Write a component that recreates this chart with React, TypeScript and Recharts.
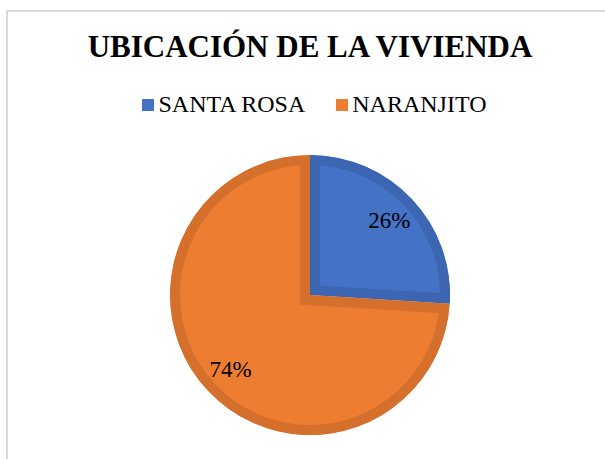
import { PieChart, Pie, Cell, Sector } from "recharts";

const categories = ["SANTA ROSA", "NARANJITO"];
const shares = [26, 74];

const FILLS = ["#4472C4", "#ED7D31"];
const BORDERS = ["#3D66B2", "#D5702C"];

const data = categories.map((name, i) => ({ name, value: shares[i] }));

const SERIF = '"Liberation Serif", "Times New Roman", serif';

// slice with its border drawn on the inside only (clipped double-width stroke)
const InnerStrokeSector = (props: any, idx?: number) => {
  const index = props.index ?? idx ?? 0;
  const id = `slice-clip-${index}`;
  return (
    <g>
      <defs>
        <clipPath id={id}>
          <Sector {...props} stroke="none" />
        </clipPath>
      </defs>
      <Sector
        {...props}
        fill={FILLS[index]}
        stroke={BORDERS[index]}
        strokeWidth={20}
        clipPath={`url(#${id})`}
      />
    </g>
  );
};

const renderLabel = ({ cx, cy, midAngle, percent }: any) => {
  const RADIAN = Math.PI / 180;
  const r = 109;
  const x = cx + r * Math.cos(-midAngle * RADIAN);
  const y = cy + r * Math.sin(-midAngle * RADIAN);
  return (
    <text
      x={x}
      y={y}
      fill="#000"
      textAnchor="middle"
      dominantBaseline="central"
      style={{ fontFamily: SERIF, fontSize: 23 }}
    >
      {(percent * 100).toFixed(0)}%
    </text>
  );
};

export default function App() {
  return (
    <div
      style={{
        position: "fixed",
        left: 0,
        top: 0,
        width: 605,
        height: 459,
        background: "#fff",
        overflow: "hidden",
      }}
    >
      <div
        style={{
          position: "absolute",
          left: 6,
          top: 10,
          width: 640,
          height: 480,
          borderLeft: "2px solid #D9D9D9",
          borderTop: "2px solid #D9D9D9",
        }}
      />
      <div
        style={{
          position: "absolute",
          left: 10,
          top: 31,
          width: 600,
          textAlign: "center",
          fontFamily: SERIF,
          fontWeight: "bold",
          fontSize: 31,
          lineHeight: "31px",
          color: "#000",
        }}
      >
        UBICACIÓN DE LA VIVIENDA
      </div>
      <div
        style={{
          position: "absolute",
          left: 0,
          top: 93,
          width: 605,
          display: "flex",
          justifyContent: "center",
          alignItems: "center",
          paddingLeft: 24,
          boxSizing: "border-box",
        }}
      >
        {categories.map((c, i) => (
          <div
            key={c}
            style={{ display: "flex", alignItems: "center", marginRight: i === 0 ? 31 : 0 }}
          >
            <span
              style={{
                width: 12,
                height: 12,
                background: FILLS[i],
                marginRight: 4,
                marginTop: 1,
                display: "inline-block",
              }}
            />
            <span
              style={{
                fontFamily: SERIF,
                fontSize: 24,
                lineHeight: "23px",
                color: "#000",
              }}
            >
              {c}
            </span>
          </div>
        ))}
      </div>
      <div style={{ position: "absolute", left: 0, top: 0 }}>
        <PieChart width={605} height={459} margin={{ top: 0, right: 0, bottom: 0, left: 0 }}>
          <Pie
            data={data}
            dataKey="value"
            nameKey="name"
            cx={310}
            cy={295}
            outerRadius={140}
            startAngle={90}
            endAngle={-270}
            labelLine={false}
            label={renderLabel}
            shape={InnerStrokeSector}
            isAnimationActive={false}
          >
            {data.map((_, i) => (
              <Cell key={i} fill={FILLS[i]} />
            ))}
          </Pie>
        </PieChart>
      </div>
    </div>
  );
}
